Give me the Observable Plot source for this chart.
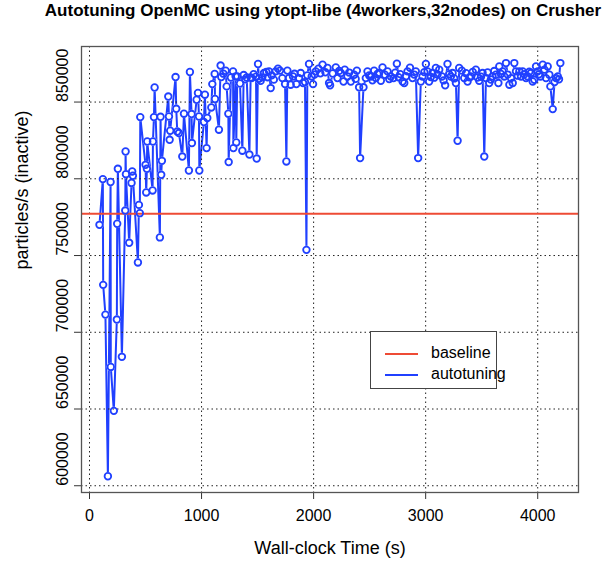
<!DOCTYPE html>
<html><head><meta charset="utf-8">
<script src="https://cdn.jsdelivr.net/npm/d3@7"></script>
<script src="https://cdn.jsdelivr.net/npm/@observablehq/plot@0.6"></script>
<style>
body{margin:0;background:#fff;font-family:"Liberation Sans",Arial,Helvetica,sans-serif;}
#wrap{position:relative;width:612px;height:564px;overflow:hidden;}
#title{position:absolute;top:1px;left:0;width:646px;text-align:center;font-weight:bold;font-size:17px;white-space:nowrap;color:#000;}
#legend{position:absolute;left:370px;top:331px;width:125px;height:56px;border:1px solid #444;background:#fff;font-size:16px;}
.sw{position:absolute;left:14px;width:33px;height:0;border-top:2px solid;}
.lt{position:absolute;left:60px;line-height:18px;white-space:nowrap;}
</style></head>
<body><div id="wrap">
<div id="title">Autotuning OpenMC using ytopt-libe (4workers,32nodes) on Crusher</div>
<div id="chart"></div>
<div id="legend">
  <div class="sw" style="top:21px;border-color:#ee4b35"></div><div class="lt" style="top:12px">baseline</div>
  <div class="sw" style="top:42px;border-color:#2040ff"></div><div class="lt" style="top:33px">autotuning</div>
</div>
</div>
<script>
const times = [
  89, 119, 122, 142, 164, 188, 190, 217, 244, 247, 253, 289, 319, 322, 325, 354, 375, 381, 387, 432,
  441, 449, 453, 500, 506, 512, 515, 563, 566, 575, 581, 628, 634, 640, 646, 703, 709, 715, 720, 768,
  774, 783, 798, 828, 843, 887, 896, 911, 914, 956, 968, 977, 980, 1021, 1030, 1045, 1051, 1087, 1096, 1117,
  1120, 1155, 1170, 1176, 1195, 1215, 1224, 1239, 1242, 1262, 1281, 1284, 1304, 1310, 1319, 1343, 1364, 1376, 1390, 1403,
  1427, 1438, 1447, 1465, 1486, 1492, 1504, 1512, 1527, 1542, 1557, 1578, 1590, 1602, 1617, 1626, 1645, 1661, 1682, 1700,
  1721, 1745, 1757, 1766, 1780, 1795, 1816, 1830, 1846, 1870, 1885, 1906, 1923, 1936, 1944, 1959, 1983, 1995, 2008, 2019,
  2043, 2060, 2080, 2105, 2124, 2138, 2147, 2170, 2198, 2213, 2228, 2243, 2267, 2278, 2302, 2318, 2332, 2362, 2375, 2386,
  2406, 2415, 2445, 2466, 2481, 2496, 2511, 2525, 2540, 2555, 2570, 2585, 2600, 2615, 2636, 2660, 2675, 2689, 2713, 2728,
  2743, 2758, 2773, 2794, 2809, 2824, 2838, 2860, 2883, 2898, 2912, 2933, 2957, 2972, 2988, 3002, 3017, 3031, 3046, 3061,
  3076, 3091, 3106, 3121, 3145, 3160, 3174, 3195, 3210, 3225, 3240, 3255, 3270, 3285, 3299, 3323, 3344, 3360, 3374, 3390,
  3404, 3420, 3448, 3463, 3478, 3494, 3508, 3523, 3538, 3553, 3567, 3582, 3597, 3612, 3627, 3649, 3657, 3672, 3687, 3702,
  3717, 3732, 3747, 3762, 3777, 3791, 3806, 3821, 3836, 3851, 3866, 3881, 3896, 3911, 3925, 3940, 3955, 3970, 3985, 4000,
  4012, 4024, 4045, 4060, 4074, 4089, 4104, 4113, 4134, 4150, 4164, 4179, 4190, 4202
];
const values = [
  770000, 799800, 730900, 711500, 606200, 797900, 677400, 648800, 708300, 770700, 806500, 684000, 779300, 817800, 803000, 758300, 797300, 804800, 802000, 745500,
  783000, 777600, 840200, 809100, 791100, 806500, 824300, 792400, 824300, 840200, 859500, 761800, 840400, 802600, 811700, 853600, 840600, 825400, 831300, 866300,
  845600, 830800, 829800, 814500, 842400, 805400, 869600, 842200, 823300, 851500, 855900, 840600, 805400, 837000, 854800, 820000, 839600, 846500, 861700, 868300,
  852000, 832000, 873800, 866300, 868500, 870400, 860200, 842400, 810900, 866000, 870000, 820000, 866700, 823700, 866700, 862100, 818300, 867600, 864800, 866000,
  815800, 866000, 865600, 868200, 866500, 813200, 874800, 865200, 863800, 866100, 868900, 869600, 866200, 870000, 859100, 867400, 864600, 870000, 871800, 870500,
  865600, 861700, 811300, 870500, 865600, 861300, 866700, 868400, 861700, 865600, 868900, 862400, 863000, 753700, 867400, 874800, 866700, 861700, 867900, 870000,
  871800, 868700, 874300, 869400, 872200, 862400, 860900, 868600, 872600, 865600, 870300, 868900, 863400, 871100, 866700, 869200, 863400, 867800, 865100, 870500,
  859600, 813500, 859600, 865600, 870000, 867300, 866700, 864200, 870500, 865600, 868300, 868900, 863900, 872600, 867800, 870000, 865000, 866700, 865600, 869100,
  875000, 866200, 868200, 863400, 862400, 866800, 870000, 872400, 865600, 867900, 870000, 813500, 863400, 866700, 869500, 874800, 870000, 863400, 866300, 868900,
  865900, 872200, 868000, 871100, 866700, 864100, 860900, 874800, 868200, 866700, 868900, 865400, 862400, 824800, 872200, 870500, 865600, 868800, 863400, 866100,
  866700, 869600, 871100, 866000, 863900, 866500, 868900, 814500, 865600, 869300, 862400, 864700, 866700, 870200, 867800, 862400, 873200, 868300, 870000, 866700,
  875400, 867900, 861300, 865600, 862400, 875400, 870000, 867200, 870000, 866700, 870000, 868100, 865600, 866700, 869700, 868900, 863400, 864500, 873200, 870000,
  868100, 866700, 874300, 871100, 865600, 873200, 867800, 860200, 845400, 863000, 865600, 866700, 864800, 875400
];
const baseline = 777200;
const xTicks = [0, 1000, 2000, 3000, 4000];
const yTicks = [600000, 650000, 700000, 750000, 800000, 850000];
const xTitle = "Wall-clock Time (s)";
const yTitle = "particles/s (inactive)";

const data = times.map((t, i) => ({t, v: values[i]}));
const blue = "#2040ff";
const red = "#ee4b35";
const dotted = {stroke: "#222", strokeOpacity: 1, strokeWidth: 1, strokeDasharray: "1.5,3"};

const chart = Plot.plot({
  width: 612, height: 564,
  marginLeft: 81, marginRight: 34, marginTop: 46, marginBottom: 72,
  x: {domain: [-71.5, 4364], label: null},
  y: {domain: [595600, 886200], label: null},
  style: {fontFamily: "'Liberation Sans', Arial, Helvetica, sans-serif", background: "white", color: "#000"},
  marks: [
    Plot.line(data, {x: "t", y: "v", stroke: blue, strokeWidth: 2}),
    Plot.dot(data, {x: "t", y: "v", r: 4.2, fill: "white", stroke: null}),
    Plot.gridX(xTicks, dotted),
    Plot.gridY(yTicks, dotted),
    Plot.ruleY([baseline], {stroke: red, strokeWidth: 2}),
    Plot.dot(data, {x: "t", y: "v", r: 3.3, fill: "none", stroke: blue, strokeWidth: 1.8}),
    Plot.axisX(xTicks, {tickSize: 7, tickPadding: 10, fontSize: 16, label: null, stroke: "#333", tickFormat: d => String(d)}),
    Plot.axisY(yTicks, {tickSize: 7, tickFormat: () => "", label: null, stroke: "#333"}),
    Plot.text(yTicks, {y: d => d, frameAnchor: "left", rotate: -90, dx: -19, text: d => String(d), fontSize: 16}),
    Plot.text([xTitle], {frameAnchor: "bottom", dy: 61, fontSize: 18}),
    Plot.text([yTitle], {frameAnchor: "left", rotate: -90, dx: -59, fontSize: 18}),
    Plot.frame({stroke: "#555", strokeWidth: 1.3})
  ]
});
document.getElementById("chart").appendChild(chart);
</script>
</body></html>
